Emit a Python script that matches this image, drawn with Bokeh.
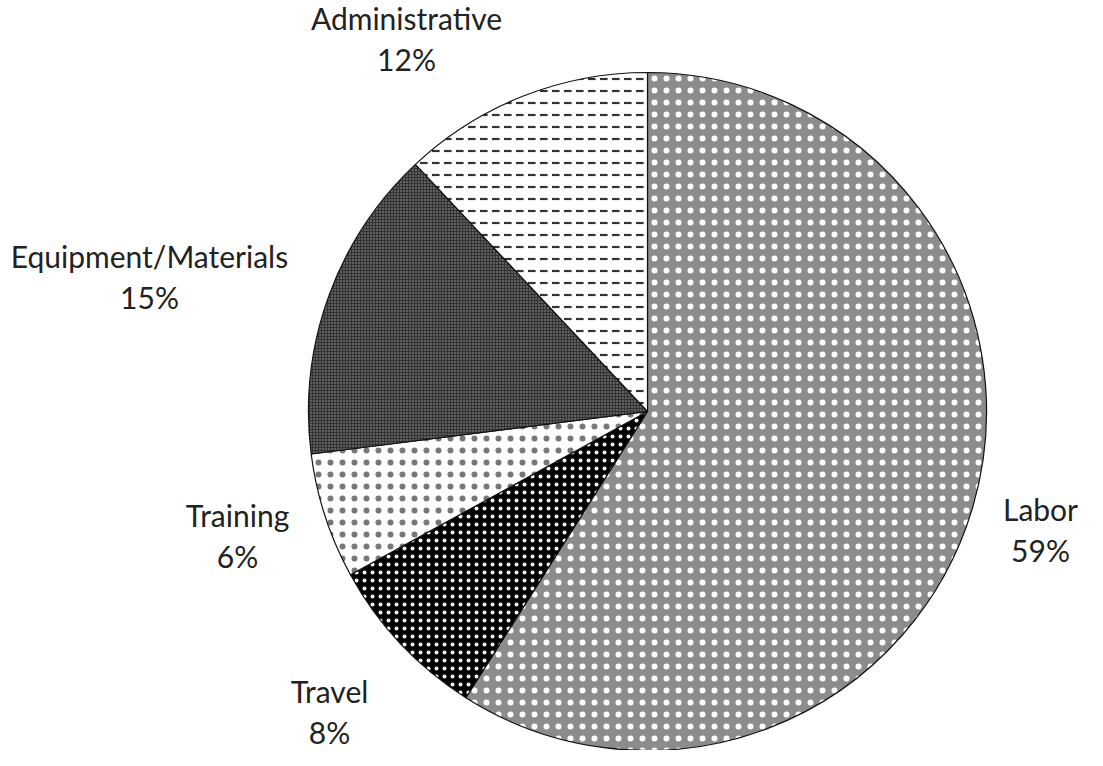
import numpy as np
from bokeh.plotting import figure
from bokeh.models import Range1d, ColumnDataSource
from bokeh.core.properties import value
from bokeh.embed import file_html
from bokeh.resources import INLINE

categories = ["Labor", "Travel", "Training", "Equipment/Materials", "Administrative"]
shares = [59, 8, 6, 15, 12]
pct_labels = ["59%", "8%", "6%", "15%", "12%"]

# layout (image pixel coordinates of label centres)
label_x = [1048, 337, 245, 157, 414]
label_y = [516, 698, 522, 263, 25]
fills = ["#8c8c8c", "#000000", "#ffffff", "#333333", "#ffffff"]
hatches = ["dot", "dot", "dot", "dot", "horizontal_dash"]
hatch_colors = ["#ffffff", "#ffffff", "#777777", "#a0a0a0", "#333333"]
hatch_scales = [12, 8, 12, 3, 12]
hatch_weights = [1.4, 1.5, 1.0, 1.3, 2.2]

W, H = 1087, 750
p = figure(width=W, height=H, output_backend="svg", toolbar_location=None,
           x_range=Range1d(8, 8 + W), y_range=Range1d(766 - 8 - H, 766 - 8),
           min_border=0)
p.axis.visible = False
p.grid.visible = False
p.outline_line_color = None
p.background_fill_color = "white"

cx, cy, r = 655, 766 - 419, 339
frac = np.array(shares, dtype=float) / sum(shares)
cum = np.concatenate([[0], np.cumsum(frac)])
start = np.pi / 2 - cum[1:] * 2 * np.pi
end = np.pi / 2 - cum[:-1] * 2 * np.pi

src = ColumnDataSource(dict(cat=categories, start=start, end=end, fill=fills,
                            hatch=hatches, hcol=hatch_colors, hscale=hatch_scales,
                            hw=hatch_weights))
p.wedge(x=cx, y=cy, radius=r, start_angle="start", end_angle="end", source=src,
        fill_color="fill", hatch_pattern="hatch", hatch_color="hcol",
        hatch_scale="hscale", hatch_weight="hw", line_color="#111111", line_width=1.2)

ly = [766 - v for v in label_y]
ly2 = [766 - v - 41 for v in label_y]
p.text(x=label_x, y=ly, text=categories, text_align="center", text_baseline="middle",
       text_font=value("Lato"), text_font_size="30px", text_color="#222222")
p.text(x=label_x, y=ly2, text=pct_labels, text_align="center", text_baseline="middle",
       text_font=value("Lato"), text_font_size="30px", text_color="#222222")

open("out.html", "w").write(file_html(p, INLINE))
